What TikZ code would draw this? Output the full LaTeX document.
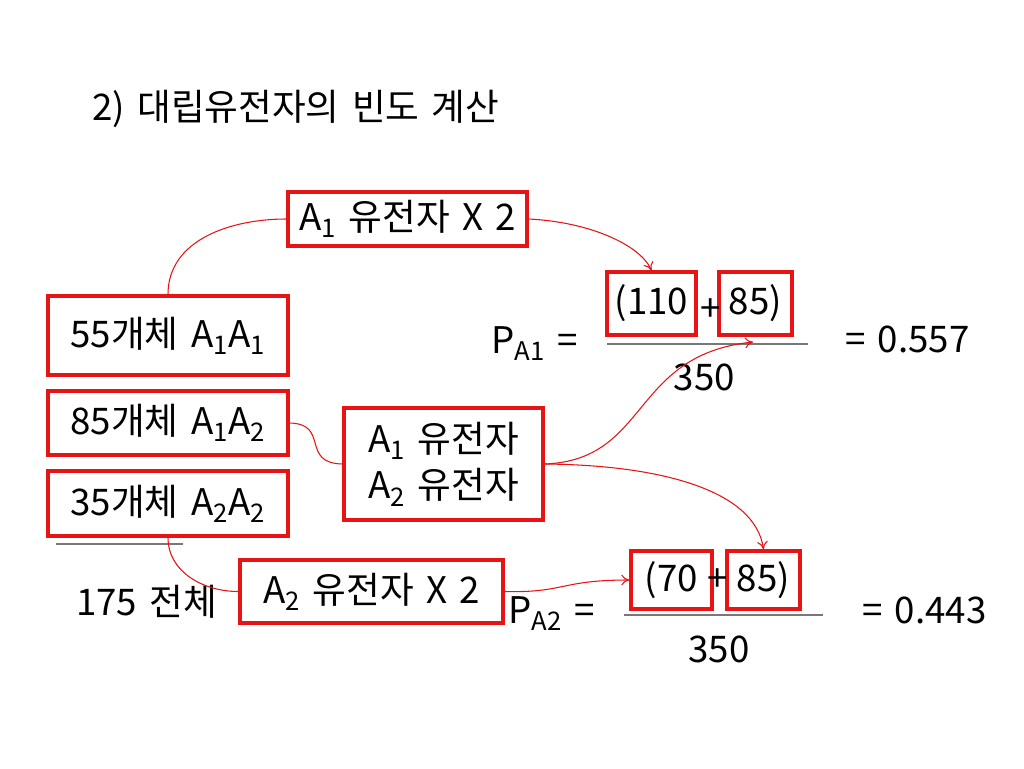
\documentclass[tikz,border=0pt]{standalone}
\usepackage{fontspec}
\setmainfont[WordSpace=1.5]{Noto Sans CJK KR}
\usetikzlibrary{arrows.meta}
\definecolor{boxred}{RGB}{230,20,20}
\definecolor{linegray}{RGB}{120,120,120}
\begin{document}
\begin{tikzpicture}[x=0.75pt,y=-0.75pt,
  every node/.style={font=\fontsize{27.5}{35}\selectfont, inner sep=0pt},
  redbox/.style={draw=boxred, line width=2.5pt, align=center},
  conn/.style={draw=boxred, line width=0.8pt},
  arr/.style={conn, -{To[length=6pt,width=8pt]}},
  fracline/.style={draw=linegray, line width=1.5pt}]
\useasboundingbox (0,0) rectangle (1024,768);
\fill[white] (0,0) rectangle (1024,768);
% title
\node[anchor=base west] (title) at (92,120) {2) 대립유전자의 빈도 계산};
% boxes
\node[redbox, minimum width=179.25pt, minimum height=40.5pt] (topbox) at (407.5,219) {A\textsubscript{1} 유전자 X 2};
\node[redbox, minimum width=180pt, minimum height=59.25pt] (b55) at (168,335.5) {55개체 A\textsubscript{1}A\textsubscript{1}};
\node[redbox, minimum width=180pt, minimum height=48pt] (b85) at (168,423) {85개체 A\textsubscript{1}A\textsubscript{2}};
\node[redbox, minimum width=180pt, minimum height=48.75pt] (b35) at (168,503.5) {35개체 A\textsubscript{2}A\textsubscript{2}};
\coordinate (l1) at (56,544);
\coordinate (l2) at (183,544);
\draw[fracline] (l1) -- (l2);
\node[anchor=base west] (total) at (76,615) {175 전체};
\node[redbox, minimum width=149.25pt, minimum height=84pt] (mid) at (443.5,464) {A\textsubscript{1} 유전자\\A\textsubscript{2} 유전자};
\node[redbox, minimum width=197.25pt, minimum height=47.25pt] (botbox) at (371.5,591.5) {A\textsubscript{2} 유전자 X 2};
% fraction 1
\node[redbox, minimum width=66.75pt, minimum height=47.25pt] (n110) at (651.5,303.5) {(110};
\node[redbox, minimum width=54.75pt, minimum height=47.25pt] (n85a) at (755.5,303.5) {85)};
\node (plusa) at (711,310) {+};
\coordinate (f1a) at (607,344);
\coordinate (f1b) at (808,344);
\draw[fracline] (f1a) -- (f1b);
\node[anchor=base] (den1) at (704.5,390) {350};
\node[anchor=base west] (pa1) at (491,353) {P\textsubscript{A1} =};
\node[anchor=base west] (res1) at (845,352) {= 0.557};
% fraction 2
\node[redbox, minimum width=60.75pt, minimum height=43.5pt] (n70) at (671.5,580) {(70};
\node[redbox, minimum width=54.75pt, minimum height=43.5pt] (n85b) at (763.5,580) {85)};
\node (plusb) at (718,580) {+};
\coordinate (f2a) at (624,615);
\coordinate (f2b) at (823,615);
\draw[fracline] (f2a) -- (f2b);
\node[anchor=base] (den2) at (719,662) {350};
\node[anchor=base west] (pa2) at (508,623) {P\textsubscript{A2} =};
\node[anchor=base west] (res2) at (862,623) {= 0.443};
% connectors
\coordinate (tip1) at (753,342);
\draw[conn] (b55.north) to[out=90,in=180] (topbox.west);
\draw[arr] (topbox.east) .. controls (590,222) and (640,245) .. (n110.north);
\draw[conn] (b85.east) .. controls (330,424) and (300,463) .. (mid.west);
\draw[arr] (mid.east) .. controls (650,460) and (630,355) .. (tip1);
\draw[arr] (mid.east) .. controls (660,465) and (755,490) .. (n85b.north);
\draw[conn] (b35.south) to[out=-90,in=180] (botbox.west);
\draw[arr] (botbox.east) .. controls (565,593) and (560,580) .. (n70.west);
\end{tikzpicture}
\end{document}
